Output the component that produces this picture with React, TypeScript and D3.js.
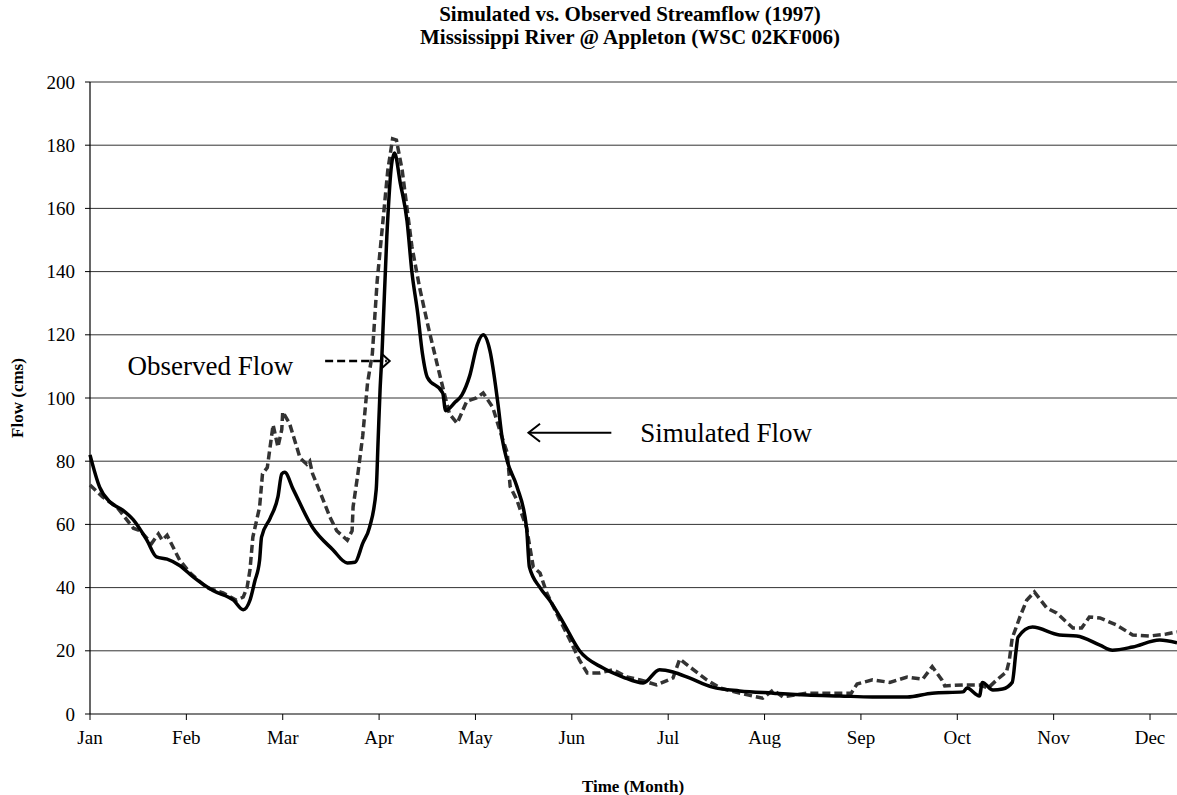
import React from "react";
import * as d3 from "d3";

const monthLabels = ["Jan","Feb","Mar","Apr","May","Jun","Jul","Aug","Sep","Oct","Nov","Dec"];
const yTicks = [0,20,40,60,80,100,120,140,160,180,200];

// time in months since Jan 1, flow in cms
const simT = [0.00,0.10,0.21,0.34,0.45,0.59,0.69,0.80,0.93,1.07,1.28,1.49,1.59,1.66,1.71,1.76,1.78,1.87,1.95,1.99,2.02,2.11,2.31,2.52,2.67,2.75,2.83,2.90,2.97,2.99,3.01,3.03,3.08,3.13,3.16,3.22,3.29,3.34,3.40,3.45,3.50,3.66,3.69,3.79,3.86,3.94,4.02,4.08,4.15,4.23,4.28,4.33,4.43,4.53,4.56,4.67,4.77,4.91,5.08,5.32,5.53,5.74,5.91,6.05,6.22,6.46,6.74,7.09,7.44,7.78,8.12,8.48,8.74,9.06,9.10,9.23,9.26,9.37,9.47,9.57,9.61,9.63,9.78,10.06,10.24,10.48,10.61,10.82,11.10,11.28];
const simQ = [82,71.8,67,64.5,61.4,55,49.7,49,47,43.4,39,36,33,36,42,48.7,56,62,68.7,76,76.5,71,59,52,47.8,48,54,59,71,86.7,102.5,114,151,174,177.5,168,156,140,127,114,106.6,101.6,96,98.7,101,107,117,120,115,99,86.7,80,72,59,46.5,40,36,29,20,14.6,11.7,9.8,14,13.3,11.4,8.5,7.3,6.6,6,5.7,5.4,5.4,6.6,7,8.2,5.7,10,7.6,7.9,10,20,24.3,27.5,25,24.7,21.8,20.2,21.2,23.4,22.5];

const obsT = [0.00,0.13,0.28,0.45,0.52,0.64,0.71,0.75,0.80,0.93,1.04,1.21,1.38,1.52,1.59,1.63,1.66,1.69,1.76,1.79,1.84,1.90,1.95,1.99,2.00,2.07,2.18,2.25,2.28,2.31,2.39,2.49,2.56,2.67,2.72,2.73,2.78,2.83,2.88,2.93,2.98,3.04,3.09,3.14,3.18,3.24,3.29,3.34,3.42,3.51,3.60,3.66,3.73,3.81,3.91,4.01,4.08,4.18,4.25,4.33,4.36,4.43,4.53,4.60,4.67,4.74,4.84,4.98,5.08,5.16,5.29,5.43,5.57,5.71,5.88,6.05,6.12,6.22,6.40,6.54,6.74,6.98,7.09,7.19,7.44,7.78,7.90,7.96,8.12,8.30,8.48,8.64,8.74,8.84,8.87,9.06,9.23,9.32,9.41,9.51,9.54,9.57,9.65,9.72,9.80,9.93,10.03,10.20,10.29,10.37,10.48,10.65,10.82,11.00,11.17,11.28];
const obsQ = [72.5,68.7,65.5,58.8,58,54,57,55,56.6,48.7,44.6,40,38.3,36,37,40,45.6,56,65.5,76,78,91.5,84.5,90,95.6,92,81,79,80,76,70,62.3,58,55,58,65.5,76,88,104.7,114,137,156,172,182,181.6,172,160,148,135,122.5,111,103.5,95,92,99,100,101.6,97,90,82.6,72,67.7,59,46.5,44.6,38.3,32,23.4,17,13,13,14,11.7,10.8,9.2,11.4,17.4,15,10.8,8.2,6.6,5,7.6,5.4,6.6,6.6,6.6,9.5,10.8,10,11.7,11,15,10.8,8.9,9.2,9.2,8.2,10.8,13.3,17,24,30.7,36,38.6,33.5,32,27.2,27.2,30.7,30.4,28.2,25,24.7,25.3,26];

const W = 1177, H = 795;
const left = 90, right = 1177, top = 82, bottom = 714;

export default function App() {
  const x = d3.scaleLinear().domain([0, 11.28]).range([left, right]);
  const y = d3.scaleLinear().domain([0, 200]).range([bottom, top]);

  const simLine = d3.line<number>().x((_, i) => x(simT[i])).y((d) => y(d)).curve(d3.curveMonotoneX);
  const obsLine = d3.line<number>().x((_, i) => x(obsT[i])).y((d) => y(d));

  const serif = "'Liberation Serif', 'Times New Roman', serif";

  const obsArrowY = y(111.7);
  const simArrowY = y(89);

  return (
    <svg width={W} height={H} style={{ position: "absolute", left: 0, top: 0, background: "#fff" }} fontFamily={serif}>
      <rect x={0} y={0} width={W} height={H} fill="#fff" />
      <text x={630} y={21} textAnchor="middle" fontWeight="bold" fontSize={21}>Simulated vs. Observed Streamflow (1997)</text>
      <text x={630} y={44} textAnchor="middle" fontWeight="bold" fontSize={21}>Mississippi River @ Appleton (WSC 02KF006)</text>

      {yTicks.map((t) => (
        <g key={t}>
          {t > 0 && <line x1={left} x2={right} y1={y(t)} y2={y(t)} stroke="#333" strokeWidth={1} />}
          <line x1={left - 5} x2={left} y1={y(t)} y2={y(t)} stroke="#000" strokeWidth={1} />
          <text x={left - 15} y={y(t) + 6.5} textAnchor="end" fontSize={19}>{t}</text>
        </g>
      ))}
      <line x1={left} x2={left} y1={top} y2={bottom} stroke="#000" strokeWidth={1.2} />
      <line x1={left} x2={right} y1={bottom} y2={bottom} stroke="#000" strokeWidth={1.2} />
      {monthLabels.map((m, i) => (
        <g key={m}>
          <line x1={x(i)} x2={x(i)} y1={bottom} y2={bottom + 6} stroke="#000" strokeWidth={1} />
          <text x={x(i)} y={bottom + 30} textAnchor="middle" fontSize={19}>{m}</text>
        </g>
      ))}

      <text transform={`translate(23,${(top + bottom) / 2}) rotate(-90)`} textAnchor="middle" fontWeight="bold" fontSize={17}>Flow (cms)</text>
      <text x={633} y={792} textAnchor="middle" fontWeight="bold" fontSize={17}>Time (Month)</text>

      <path d={obsLine(obsQ) || ""} fill="none" stroke="#333" strokeWidth={3.5} strokeDasharray="8,4" />
      <path d={simLine(simQ) || ""} fill="none" stroke="#000" strokeWidth={3.5} />

      <text x={x(0.39)} y={obsArrowY + 14} fontSize={27}>Observed Flow</text>
      <line x1={x(2.44)} x2={x(3.08)} y1={obsArrowY} y2={obsArrowY} stroke="#000" strokeWidth={2.5} strokeDasharray="8,4" />
      <polyline points={`${x(3.03)},${obsArrowY - 7} ${x(3.11)},${obsArrowY} ${x(3.03)},${obsArrowY + 7}`} fill="none" stroke="#000" strokeWidth={2} />

      <text x={x(5.71)} y={simArrowY + 9} fontSize={27}>Simulated Flow</text>
      <line x1={x(4.55)} x2={x(5.41)} y1={simArrowY} y2={simArrowY} stroke="#000" strokeWidth={2} />
      <polyline points={`${x(4.67)},${simArrowY - 9} ${x(4.55)},${simArrowY} ${x(4.67)},${simArrowY + 9}`} fill="none" stroke="#000" strokeWidth={2} />
    </svg>
  );
}
